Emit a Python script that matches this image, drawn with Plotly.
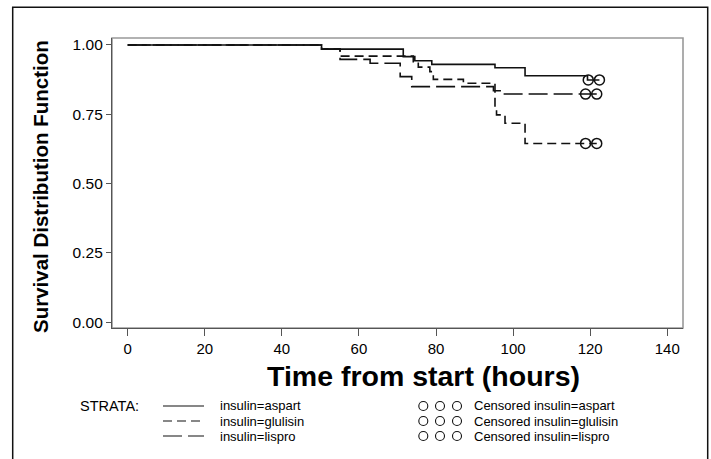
import plotly.graph_objects as go

# ---------------- data ----------------
strata = ["insulin=aspart", "insulin=glulisin", "insulin=lispro"]

aspart_t = [0, 50.3, 71.5, 74.5, 78.9, 95.3, 103.1, 119.3, 122.4]
aspart_s = [1.0, 0.985, 0.958, 0.943, 0.930, 0.918, 0.889, 0.874, 0.874]
aspart_cens_t = [119.5, 122.4]
aspart_cens_s = [0.874, 0.874]

glulisin_t = [0, 50.3, 55.1, 74.1, 75.4, 78.4, 79.3, 87.1, 95.3, 95.7, 97.9, 103.1, 121.7]
glulisin_s = [1.0, 0.985, 0.960, 0.940, 0.920, 0.904, 0.876, 0.862, 0.766, 0.748, 0.718, 0.645, 0.645]
glulisin_cens_t = [118.8, 121.7]
glulisin_cens_s = [0.645, 0.645]

lispro_t = [0, 50.3, 55.1, 62.9, 70.7, 73.7, 94.9, 97.0, 121.7]
lispro_s = [1.0, 0.985, 0.948, 0.934, 0.886, 0.850, 0.835, 0.823, 0.823]
lispro_cens_t = [118.8, 121.7]
lispro_cens_s = [0.823, 0.823]

x_ticks = [0, 20, 40, 60, 80, 100, 120, 140]
y_ticks = [0.0, 0.25, 0.5, 0.75, 1.0]

x_title = "Time from start (hours)"
y_title = "Survival Distribution Function"
legend_title = "STRATA:"

# ---------------- layout geometry ----------------
W, H = 711, 459
L, R, T, B = 112, 28, 38, 131
PW, PH = W - L - R, H - T - B


def px(x):
    return (x - L) / PW


def py(y):
    return (H - B - y) / PH


BASE = "Liberation Sans, Arial, Helvetica, sans-serif"
LINE_COL = "#111111"
dashes = ["solid", "9px,5px", "19px,6px"]

fig = go.Figure()

series = [
    (aspart_t, aspart_s, aspart_cens_t, aspart_cens_s),
    (glulisin_t, glulisin_s, glulisin_cens_t, glulisin_cens_s),
    (lispro_t, lispro_s, lispro_cens_t, lispro_cens_s),
]
for name, dash, (t, s, ct, cs) in zip(strata, dashes, series):
    fig.add_trace(go.Scatter(
        x=t, y=s, mode="lines", name=name,
        line=dict(shape="hv", color=LINE_COL, width=1.6, dash=dash),
        showlegend=False, hoverinfo="skip"))
    fig.add_trace(go.Scatter(
        x=ct, y=cs, mode="markers", name="Censored " + name,
        marker=dict(symbol="circle-open", size=10, color="#111111",
                    line=dict(width=1.5, color="#111111")),
        showlegend=False, hoverinfo="skip"))

shapes = []
# outer frame of the figure
shapes.append(dict(type="rect", xref="paper", yref="paper",
                   x0=px(12.7), x1=px(707.7), y0=py(7.3), y1=py(480),
                   line=dict(color="#111111", width=1.5), layer="below"))
# plot box (top/right lighter)
shapes.append(dict(type="rect", xref="paper", yref="paper",
                   x0=0, x1=1, y0=0, y1=1,
                   line=dict(color="#999999", width=1.6), layer="below"))

annotations = []
# axis titles
annotations.append(dict(text="<b>%s</b>" % x_title, xref="paper", yref="paper",
                        x=px(423), y=py(376), xanchor="center", yanchor="middle",
                        showarrow=False, font=dict(family=BASE, size=28.5, color="#000000")))
annotations.append(dict(text="<b>%s</b>" % y_title, xref="paper", yref="paper",
                        x=px(40), y=py(187), xanchor="center", yanchor="middle",
                        textangle=-90, showarrow=False,
                        font=dict(family=BASE, size=20.5, color="#000000")))

# legend
annotations.append(dict(text=legend_title, xref="paper", yref="paper",
                        x=px(77.5), y=py(406), xanchor="left", yanchor="middle",
                        showarrow=False, font=dict(family=BASE, size=14.5, color="#000000")))
rows_y = [406, 421, 436]
for name, dash, ry in zip(strata, dashes, rows_y):
    shapes.append(dict(type="line", xref="paper", yref="paper",
                       x0=px(163), x1=px(204), y0=py(ry), y1=py(ry),
                       line=dict(color=LINE_COL, width=1.2, dash=dash)))
    annotations.append(dict(text=name, xref="paper", yref="paper",
                            x=px(218), y=py(ry), xanchor="left", yanchor="middle",
                            showarrow=False, font=dict(family=BASE, size=13, color="#000000")))
    for cx in [423.3, 440.0, 457.0]:
        shapes.append(dict(type="circle", xref="paper", yref="paper",
                           xsizemode="pixel", ysizemode="pixel",
                           xanchor=px(cx), yanchor=py(ry),
                           x0=-4.5, x1=4.5, y0=-4.5, y1=4.5,
                           line=dict(color="#111111", width=1.1)))
    annotations.append(dict(text="Censored " + name, xref="paper", yref="paper",
                            x=px(471.5), y=py(ry), xanchor="left", yanchor="middle",
                            showarrow=False, font=dict(family=BASE, size=13, color="#000000")))

fig.update_layout(
    width=W, height=H,
    margin=dict(l=L, r=R, t=T, b=B, pad=0),
    paper_bgcolor="white", plot_bgcolor="white",
    font=dict(family=BASE, size=15, color="#000000"),
    shapes=shapes, annotations=annotations,
    showlegend=False,
)
fig.update_xaxes(
    range=[-4.07, 144.08], tickvals=x_ticks, ticktext=[str(v) for v in x_ticks],
    showgrid=False, zeroline=False, showline=True, linecolor="#555555", linewidth=1.3,
    ticks="outside", ticklen=7, tickwidth=1.3, tickcolor="#555555",
    tickfont=dict(family=BASE, size=15, color="#000000"), fixedrange=True,
)
fig.update_yaxes(
    range=[-0.0206, 1.0252], tickvals=y_ticks, ticktext=["%.2f" % v for v in y_ticks],
    showgrid=False, zeroline=False, showline=True, linecolor="#555555", linewidth=1.3,
    ticks="outside", ticklen=5, tickwidth=1.3, tickcolor="#555555",
    tickfont=dict(family=BASE, size=15.5, color="#000000"), fixedrange=True,
)

fig.write_html("out.html", config={"displayModeBar": False},
               post_script="document.body.style.margin='0px';document.body.style.overflow='hidden';")
